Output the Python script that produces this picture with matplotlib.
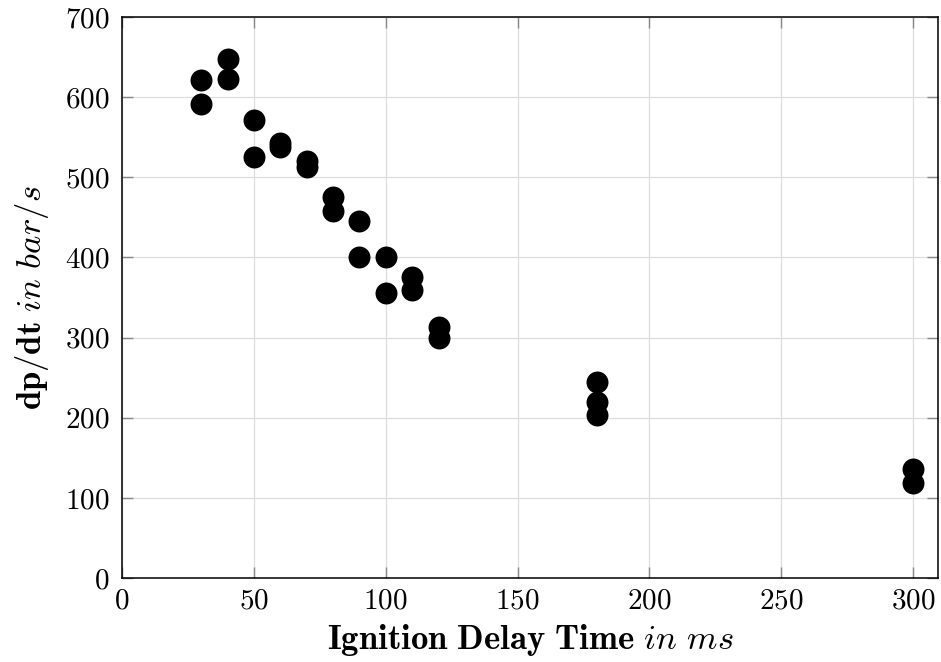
import matplotlib
matplotlib.use("Agg")
import matplotlib.pyplot as plt
from matplotlib.ticker import FuncFormatter

plt.rcParams["mathtext.fontset"] = "cm"
plt.rcParams["font.family"] = "serif"
plt.rcParams["font.serif"] = ["cmr10", "DejaVu Serif"]
plt.rcParams["axes.formatter.use_mathtext"] = True

# Ignition delay time (ms) and pressure rise rate (bar/s)
delay_ms = [30, 30, 40, 40, 50, 50, 60, 60, 70, 70, 80, 80, 90, 90,
            100, 100, 110, 110, 120, 120, 180, 180, 180, 300, 300]
dpdt = [622, 591, 647, 623, 572, 525, 543, 538, 520, 513, 475, 458, 445, 401,
        401, 355, 376, 359, 313, 300, 245, 219, 203, 136, 119]

x_ticks = [0, 50, 100, 150, 200, 250, 300]
y_ticks = [0, 100, 200, 300, 400, 500, 600, 700]

fig = plt.figure(figsize=(9.41, 6.62), dpi=100)
ax = fig.add_axes([0.1297, 0.1269, 0.8671, 0.8474])

ax.scatter(delay_ms, dpdt, s=250, color="black", zorder=3, linewidths=0)

ax.set_xlim(0, 309.4)
ax.set_ylim(0, 700)
ax.set_xticks(x_ticks)
ax.set_yticks(y_ticks)
fmt = FuncFormatter(lambda v, p: r"$%d$" % v)
ax.xaxis.set_major_formatter(fmt)
ax.yaxis.set_major_formatter(fmt)

ax.grid(True, color="#dddddd", linewidth=0.9, zorder=0)
ax.set_axisbelow(True)
ax.tick_params(direction="in", length=8, width=1.0, color="#888888",
               labelsize=21, top=True, right=True)
ax.tick_params(axis="y", pad=9)
ax.tick_params(axis="x", pad=7)
for s in ax.spines.values():
    s.set_linewidth(1.1)
    s.set_color("black")

ax.set_xlabel(r"$\mathbf{Ignition\ Delay\ Time}\ in\ ms$", fontsize=25, labelpad=6)
ax.set_ylabel(r"$\mathbf{dp/dt}\ in\ bar/s$", fontsize=25, labelpad=10)

fig.savefig("out.png", dpi=100)
